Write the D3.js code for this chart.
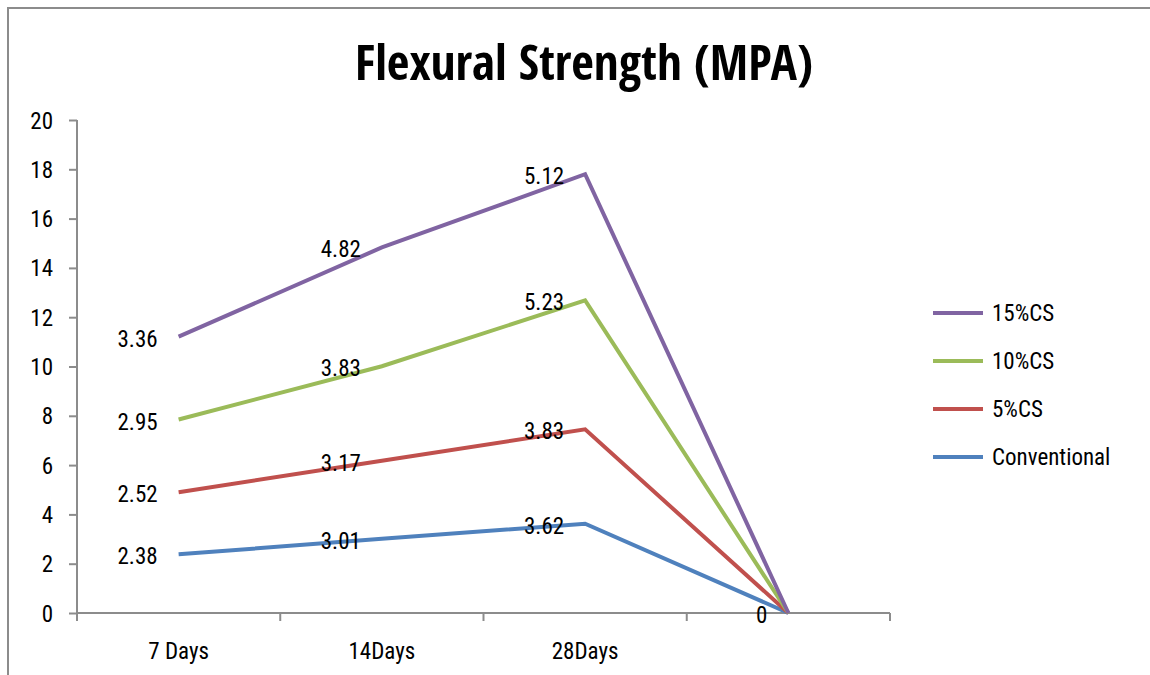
<!DOCTYPE html>
<html><head><meta charset="utf-8">
<script src="https://cdn.jsdelivr.net/npm/d3@7"></script>
<style>
html,body{margin:0;padding:0;background:#fff;}
svg{display:block;}
text{font-family:"Liberation Sans Narrow","Roboto Condensed","DejaVu Sans Condensed","Liberation Sans",sans-serif;font-stretch:condensed;font-weight:normal;}
text.title{font-family:"Open Sans Condensed","Liberation Sans Narrow","Roboto Condensed",sans-serif;font-weight:bold;}
</style></head>
<body><svg id="c" width="1150" height="675"></svg>
<script>
const categories = ["7 Days", "14Days", "28Days", ""];
const seriesNames = ["Conventional", "5%CS", "10%CS", "15%CS"];
const conventional = [2.38, 3.01, 3.62, 0];
const cs5 = [2.52, 3.17, 3.83, 0];
const cs10 = [2.95, 3.83, 5.23, 0];
const cs15 = [3.36, 4.82, 5.12, 0];
const yTicks = [0, 2, 4, 6, 8, 10, 12, 14, 16, 18, 20];
const colors = ["#4F81BD", "#C0504D", "#9BBB59", "#8064A2"];
const title = "Flexural Strength (MPA)";

const seriesValues = [conventional, cs5, cs10, cs15];
const rows = categories.map((c, i) => {
  const r = {cat: c};
  seriesNames.forEach((s, j) => r[s] = seriesValues[j][i]);
  return r;
});
const stacked = d3.stack().keys(seriesNames)(rows);

const svg = d3.select("#c");
svg.append("path").attr("d", "M8,675 L8,8 L1150,8").attr("fill", "none").attr("stroke", "#8c8c8c").attr("stroke-width", 2);

const x0 = 77, x1 = 890, yTop = 120, yBot = 613;
const x = d3.scaleBand().domain(d3.range(categories.length)).range([x0, x1]);
const y = d3.scaleLinear().domain([0, 20]).range([yBot, yTop]);

svg.append("text").attr("class", "title").attr("x", 584).attr("y", 80).attr("text-anchor", "middle")
  .attr("font-size", 49).attr("fill", "#000").text(title);

const yAxis = svg.append("g").attr("transform", `translate(${x0},0)`)
  .call(d3.axisLeft(y).tickValues(yTicks).tickSize(8).tickPadding(16).tickFormat(d3.format("d")));
yAxis.attr("font-family", null).attr("font-size", null);
yAxis.select(".domain").attr("stroke", "#8c8c8c").attr("stroke-width", 2).attr("d", `M0,${yTop}V${yBot}`);
yAxis.selectAll(".tick line").attr("stroke", "#8c8c8c").attr("stroke-width", 2);
yAxis.selectAll(".tick text").attr("font-size", 23).attr("fill", "#000").attr("dy", "0.35em");

const xAxis = svg.append("g").attr("transform", `translate(0,${yBot})`);
xAxis.append("line").attr("x1", x0).attr("x2", x1).attr("y1", 0).attr("y2", 0).attr("stroke", "#8c8c8c").attr("stroke-width", 2);
const bounds = d3.range(categories.length + 1).map(i => i < categories.length ? x(i) : x1);
xAxis.selectAll("line.tk").data(bounds).join("line").attr("class", "tk")
  .attr("x1", d => d).attr("x2", d => d).attr("y1", 0).attr("y2", 8)
  .attr("stroke", "#8c8c8c").attr("stroke-width", 2);
xAxis.selectAll("text").data(categories).join("text")
  .attr("x", (d, i) => x(i) + x.bandwidth() / 2).attr("y", 46)
  .attr("text-anchor", "middle").attr("font-size", 23).attr("fill", "#000").text(d => d);

const cx = i => x(i) + x.bandwidth() / 2;
const line = d3.line().x((d, i) => cx(i)).y(d => y(d[1]));

svg.append("g").selectAll("path").data(stacked).join("path")
  .attr("d", s => line(s)).attr("fill", "none")
  .attr("stroke", (s, i) => colors[i]).attr("stroke-width", 4).attr("stroke-linejoin", "miter");

// data labels (labels at identical positions are drawn once, as they coincide)
const seen = new Set();
const labels = [];
stacked.forEach((s, si) => {
  s.forEach((d, i) => {
    const key = i + ":" + d[1];
    if (seen.has(key)) return;
    seen.add(key);
    labels.push({i, v: d[1], t: seriesValues[si][i]});
  });
});
svg.append("g").selectAll("text").data(labels).join("text")
  .attr("x", d => cx(d.i) - 21).attr("y", d => y(d.v) + 2)
  .attr("dy", "0.35em").attr("text-anchor", "end").attr("font-size", 23).attr("fill", "#000")
  .text(d => d.t);

const legendOrder = [3, 2, 1, 0];
const lg = svg.append("g");
legendOrder.forEach((si, k) => {
  const ly = 313 + k * 48;
  lg.append("line").attr("x1", 933).attr("x2", 983).attr("y1", ly).attr("y2", ly)
    .attr("stroke", colors[si]).attr("stroke-width", 4);
  lg.append("text").attr("x", 992).attr("y", ly).attr("dy", "0.35em").attr("font-size", 23)
    .attr("fill", "#000").text(seriesNames[si]);
});
</script></body></html>
